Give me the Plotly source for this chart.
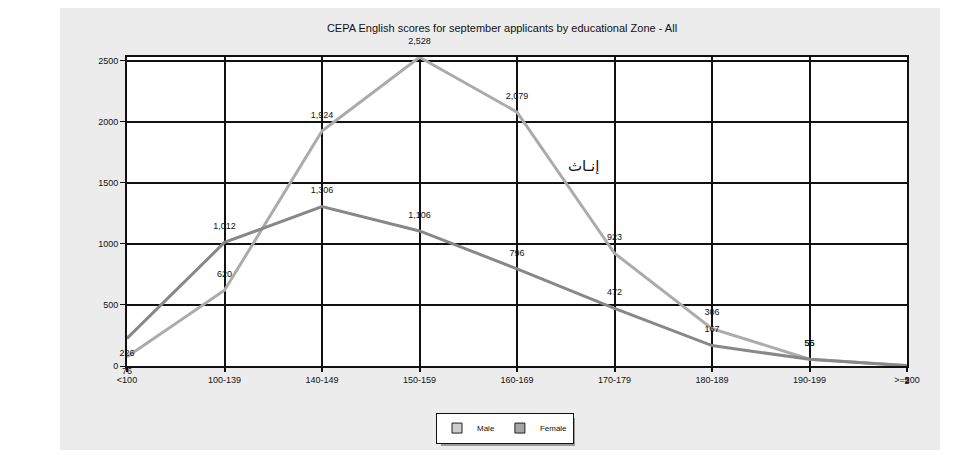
import plotly.graph_objects as go

categories = ["<100", "100-139", "140-149", "150-159", "160-169", "170-179", "180-189", "190-199", ">=200"]
male = [226, 1012, 1306, 1106, 796, 472, 167, 55, 2]
female = [76, 620, 1924, 2528, 2079, 923, 306, 56, 5]
y_ticks = [0, 500, 1000, 1500, 2000, 2500]
title_text = "CEPA English scores for september applicants by educational Zone - All"
arabic_label = "إنـاث"

# the page body has an 8px margin, so the figure starts at (8, 8) of the window
OFF = 8
W, H = 976 - OFF, 455 - OFF
Y_MAX = 2530
L_REF, R_REF, B_REF = 127, 907, 366
T_REF = B_REF - Y_MAX * (305 / 2500)
FONT = "Liberation Sans, Arial, sans-serif"


def px(x):
    return (x - L_REF) / (R_REF - L_REF)


def py(y):
    return (B_REF - y) / (B_REF - T_REF)


male_pos = ["bottom center"] + ["top center"] * 7 + ["bottom center"]
female_pos = ["bottom center"] + ["top center"] * 7 + ["bottom center"]
ghost = dict(size=16, color="rgba(0,0,0,0)", line=dict(width=0))

fig = go.Figure()
fig.add_trace(go.Scatter(
    x=categories, y=female, mode="lines+markers+text", name="Female", showlegend=False,
    line=dict(color="#ababab", width=3), marker=ghost,
    texttemplate="%{y:,}", textposition=female_pos,
    textfont=dict(family=FONT, size=9, color="#111"), cliponaxis=False,
))
fig.add_trace(go.Scatter(
    x=categories, y=male, mode="lines+markers+text", name="Male", showlegend=False,
    line=dict(color="#888888", width=3), marker=ghost,
    texttemplate="%{y:,}", textposition=male_pos,
    textfont=dict(family=FONT, size=9, color="#111"), cliponaxis=False,
))
# legend swatches
fig.add_trace(go.Scatter(x=[None], y=[None], mode="markers", name="Male",
                         marker=dict(symbol="square", size=10, color="#cccccc",
                                     line=dict(color="#222", width=1))))
fig.add_trace(go.Scatter(x=[None], y=[None], mode="markers", name="Female",
                         marker=dict(symbol="square", size=10, color="#a4a4a4",
                                     line=dict(color="#222", width=1))))

shapes = [
    # gray panel
    dict(type="rect", xref="paper", yref="paper", x0=px(60), x1=px(940), y0=py(450), y1=py(8),
         fillcolor="#ececec", line=dict(width=0), layer="below"),
    # white plot area
    dict(type="rect", xref="paper", yref="paper", x0=0, x1=1, y0=0, y1=1,
         fillcolor="white", line=dict(width=0), layer="below"),
    # legend shadow
    dict(type="rect", xref="paper", yref="paper", x0=px(441), x1=px(575), y0=py(446), y1=py(418),
         fillcolor="#9a9a9a", line=dict(width=0), layer="below"),
]

fig.update_layout(
    width=W, height=H,
    margin=dict(l=L_REF - OFF, r=W - (R_REF - OFF), t=T_REF - OFF, b=H - (B_REF - OFF)),
    paper_bgcolor="white", plot_bgcolor="white",
    title=dict(text=title_text, x=(502 - OFF) / W, xanchor="center",
               y=1 - (28 - OFF) / H, yanchor="middle",
               xref="container", yref="container",
               font=dict(family=FONT, size=11, color="#111")),
    font=dict(family=FONT, size=9, color="#111"),
    showlegend=True,
    legend=dict(orientation="h", x=px(505), y=py(428), xanchor="center", yanchor="middle",
                bgcolor="white", bordercolor="#111", borderwidth=1,
                font=dict(family=FONT, size=8, color="#111"), itemwidth=30),
    shapes=shapes,
    annotations=[dict(text=arabic_label, x=px(583), y=py(155), xref="paper", yref="paper",
                      showarrow=False, font=dict(family="DejaVu Sans", size=15, color="#111"))],
)
fig.update_xaxes(
    type="category", range=[0, len(categories) - 1],
    showgrid=True, gridcolor="#111", gridwidth=2,
    showline=True, linecolor="#111", linewidth=2, mirror=True,
    ticks="outside", ticklen=4, tickcolor="#111", tickwidth=2,
    tickfont=dict(family=FONT, size=9, color="#111"),
    zeroline=False, fixedrange=True,
)
fig.update_yaxes(
    range=[0, Y_MAX], tickvals=y_ticks,
    showgrid=True, gridcolor="#111", gridwidth=2,
    showline=True, linecolor="#111", linewidth=2, mirror=True,
    ticks="outside", ticklen=5, tickcolor="#111", tickwidth=1,
    tickfont=dict(family=FONT, size=9, color="#111"),
    zeroline=True, zerolinecolor="#111", zerolinewidth=3, fixedrange=True,
)

fig.write_html("out.html")
